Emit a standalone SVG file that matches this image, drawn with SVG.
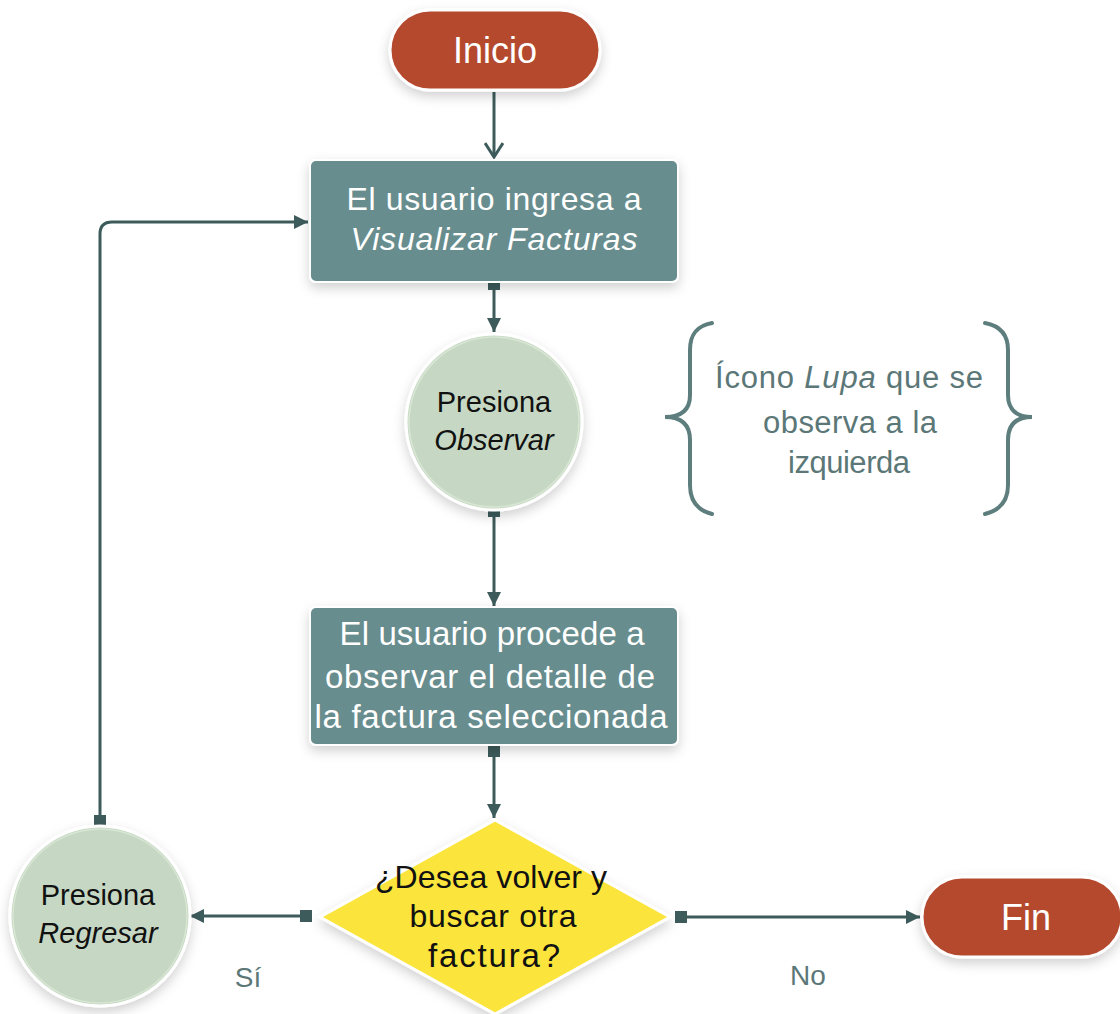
<svg xmlns="http://www.w3.org/2000/svg" width="1120" height="1014" viewBox="0 0 1120 1014">
<defs>
<style>
.term{fill:#b5482f;stroke:#ffffff;stroke-width:3}
.proc{fill:#678d8e;stroke:#ffffff;stroke-width:2}
.circ{fill:#c6d8c3;stroke:#ffffff;stroke-width:3}
.dec{fill:#fbe53c;stroke:#ffffff;stroke-width:3}
.conn{fill:none;stroke:#3d5b5b;stroke-width:3}
.brace{fill:none;stroke:#5e7e7e;stroke-width:4;stroke-linecap:round}
text{font-family:"Liberation Sans",Arial,sans-serif;text-anchor:middle}
.wt{fill:#ffffff}
.bk{fill:#111111}
.gt{fill:#5b7777}
.it{font-style:italic}
</style>
<filter id="sh" x="-20%" y="-20%" width="140%" height="150%">
<feDropShadow dx="0" dy="5" stdDeviation="6" flood-color="#000000" flood-opacity="0.18"/>
</filter>
<marker id="arr" markerUnits="userSpaceOnUse" markerWidth="16" markerHeight="16" refX="15" refY="8" orient="auto">
<path d="M1,1 L15,8 L1,15 z" fill="#3d5b5b"/>
</marker>
<marker id="chev" markerUnits="userSpaceOnUse" markerWidth="20" markerHeight="20" refX="16" refY="10" orient="auto">
<path d="M2,1 L16,10 L2,19" fill="none" stroke="#3d5b5b" stroke-width="3"/>
</marker>
<marker id="sq" markerUnits="userSpaceOnUse" markerWidth="12" markerHeight="12" refX="6" refY="6" orient="auto">
<rect x="0" y="0" width="12" height="12" fill="#3d5b5b"/>
</marker>
</defs>
<rect width="1120" height="1014" fill="#ffffff"/>

<g id="connectors">
<path class="conn" d="M494,92 L494,157" marker-end="url(#chev)"/>
<path class="conn" d="M494,284 L494,332" marker-start="url(#sq)" marker-end="url(#arr)"/>
<path class="conn" d="M494,511 L494,606" marker-start="url(#sq)" marker-end="url(#arr)"/>
<path class="conn" d="M494,751 L494,818" marker-start="url(#sq)" marker-end="url(#arr)"/>
<path class="conn" d="M306,916 L190,916" marker-start="url(#sq)" marker-end="url(#arr)"/>
<path class="conn" d="M100,821 L100,234 Q100,222 112,222 L308,222" marker-start="url(#sq)" marker-end="url(#arr)"/>
<path class="conn" d="M681,917 L920,917" marker-start="url(#sq)" marker-end="url(#arr)"/>
<text class="gt" x="248" y="987" font-size="28">Sí</text>
<text class="gt" x="808" y="985" font-size="28">No</text>
</g>

<g id="inicio">
<rect class="term" x="390" y="10" width="210" height="80" rx="40" filter="url(#sh)"/>
<text class="wt" x="495" y="63" font-size="36">Inicio</text>
</g>

<g id="ingresa">
<rect class="proc" x="310" y="160" width="368" height="122" rx="6" filter="url(#sh)"/>
<text class="wt" x="494" y="210" font-size="32" textLength="295" lengthAdjust="spacing">El usuario ingresa a</text>
<text class="wt it" x="494" y="250" font-size="32" textLength="287" lengthAdjust="spacing">Visualizar Facturas</text>
</g>

<g id="observar">
<circle class="circ" cx="494" cy="422" r="88" filter="url(#sh)"/>
<circle cx="494" cy="422" r="85" fill="none" stroke="#d8e6d4" stroke-width="1.5"/>
<text class="bk" x="494" y="412" font-size="29">Presiona</text>
<text class="bk it" x="494" y="450" font-size="29">Observar</text>
</g>

<g id="nota">
<path class="brace" d="M712,323 C696,326 690,335 690,350 L690,395 C690,410 681,417 665,417 C681,417 690,424 690,440 L690,485 C690,500 696,510 712,514"/>
<path class="brace" d="M985,323 C1001,326 1008,335 1008,350 L1008,395 C1008,410 1017,417 1032,417 C1017,417 1008,424 1008,440 L1008,485 C1008,500 1001,510 985,514"/>
<text class="gt" x="849" y="388" font-size="31" textLength="268" lengthAdjust="spacing">Ícono <tspan class="it">Lupa</tspan> que se</text>
<text class="gt" x="850" y="433" font-size="31" textLength="174" lengthAdjust="spacing">observa a la</text>
<text class="gt" x="849" y="473" font-size="31" textLength="122" lengthAdjust="spacing">izquierda</text>
</g>

<g id="detalle">
<rect class="proc" x="310" y="607" width="368" height="138" rx="6" filter="url(#sh)"/>
<text class="wt" x="492" y="645" font-size="33" textLength="305" lengthAdjust="spacing">El usuario procede a</text>
<text class="wt" x="490" y="688" font-size="33" textLength="330" lengthAdjust="spacing">observar el detalle de</text>
<text class="wt" x="491" y="728" font-size="33" textLength="353" lengthAdjust="spacing">la factura seleccionada</text>
</g>

<g id="decision">
<path class="dec" d="M495,820 L670,917 L495,1014 L320,917 Z" filter="url(#sh)"/>
<text class="bk" x="491" y="888" font-size="32" textLength="232" lengthAdjust="spacing">¿Desea volver y</text>
<text class="bk" x="493" y="927" font-size="32" textLength="167" lengthAdjust="spacing">buscar otra</text>
<text class="bk" x="494" y="967" font-size="33" textLength="132" lengthAdjust="spacing">factura?</text>
</g>

<g id="regresar">
<circle class="circ" cx="100" cy="916" r="90" filter="url(#sh)"/>
<circle cx="100" cy="916" r="87" fill="none" stroke="#d8e6d4" stroke-width="1.5"/>
<text class="bk" x="98" y="905" font-size="29">Presiona</text>
<text class="bk it" x="98" y="943" font-size="29">Regresar</text>
</g>

<g id="fin">
<rect class="term" x="922" y="877" width="200" height="80" rx="40" filter="url(#sh)"/>
<text class="wt" x="1026" y="930" font-size="36">Fin</text>
</g>
</svg>
